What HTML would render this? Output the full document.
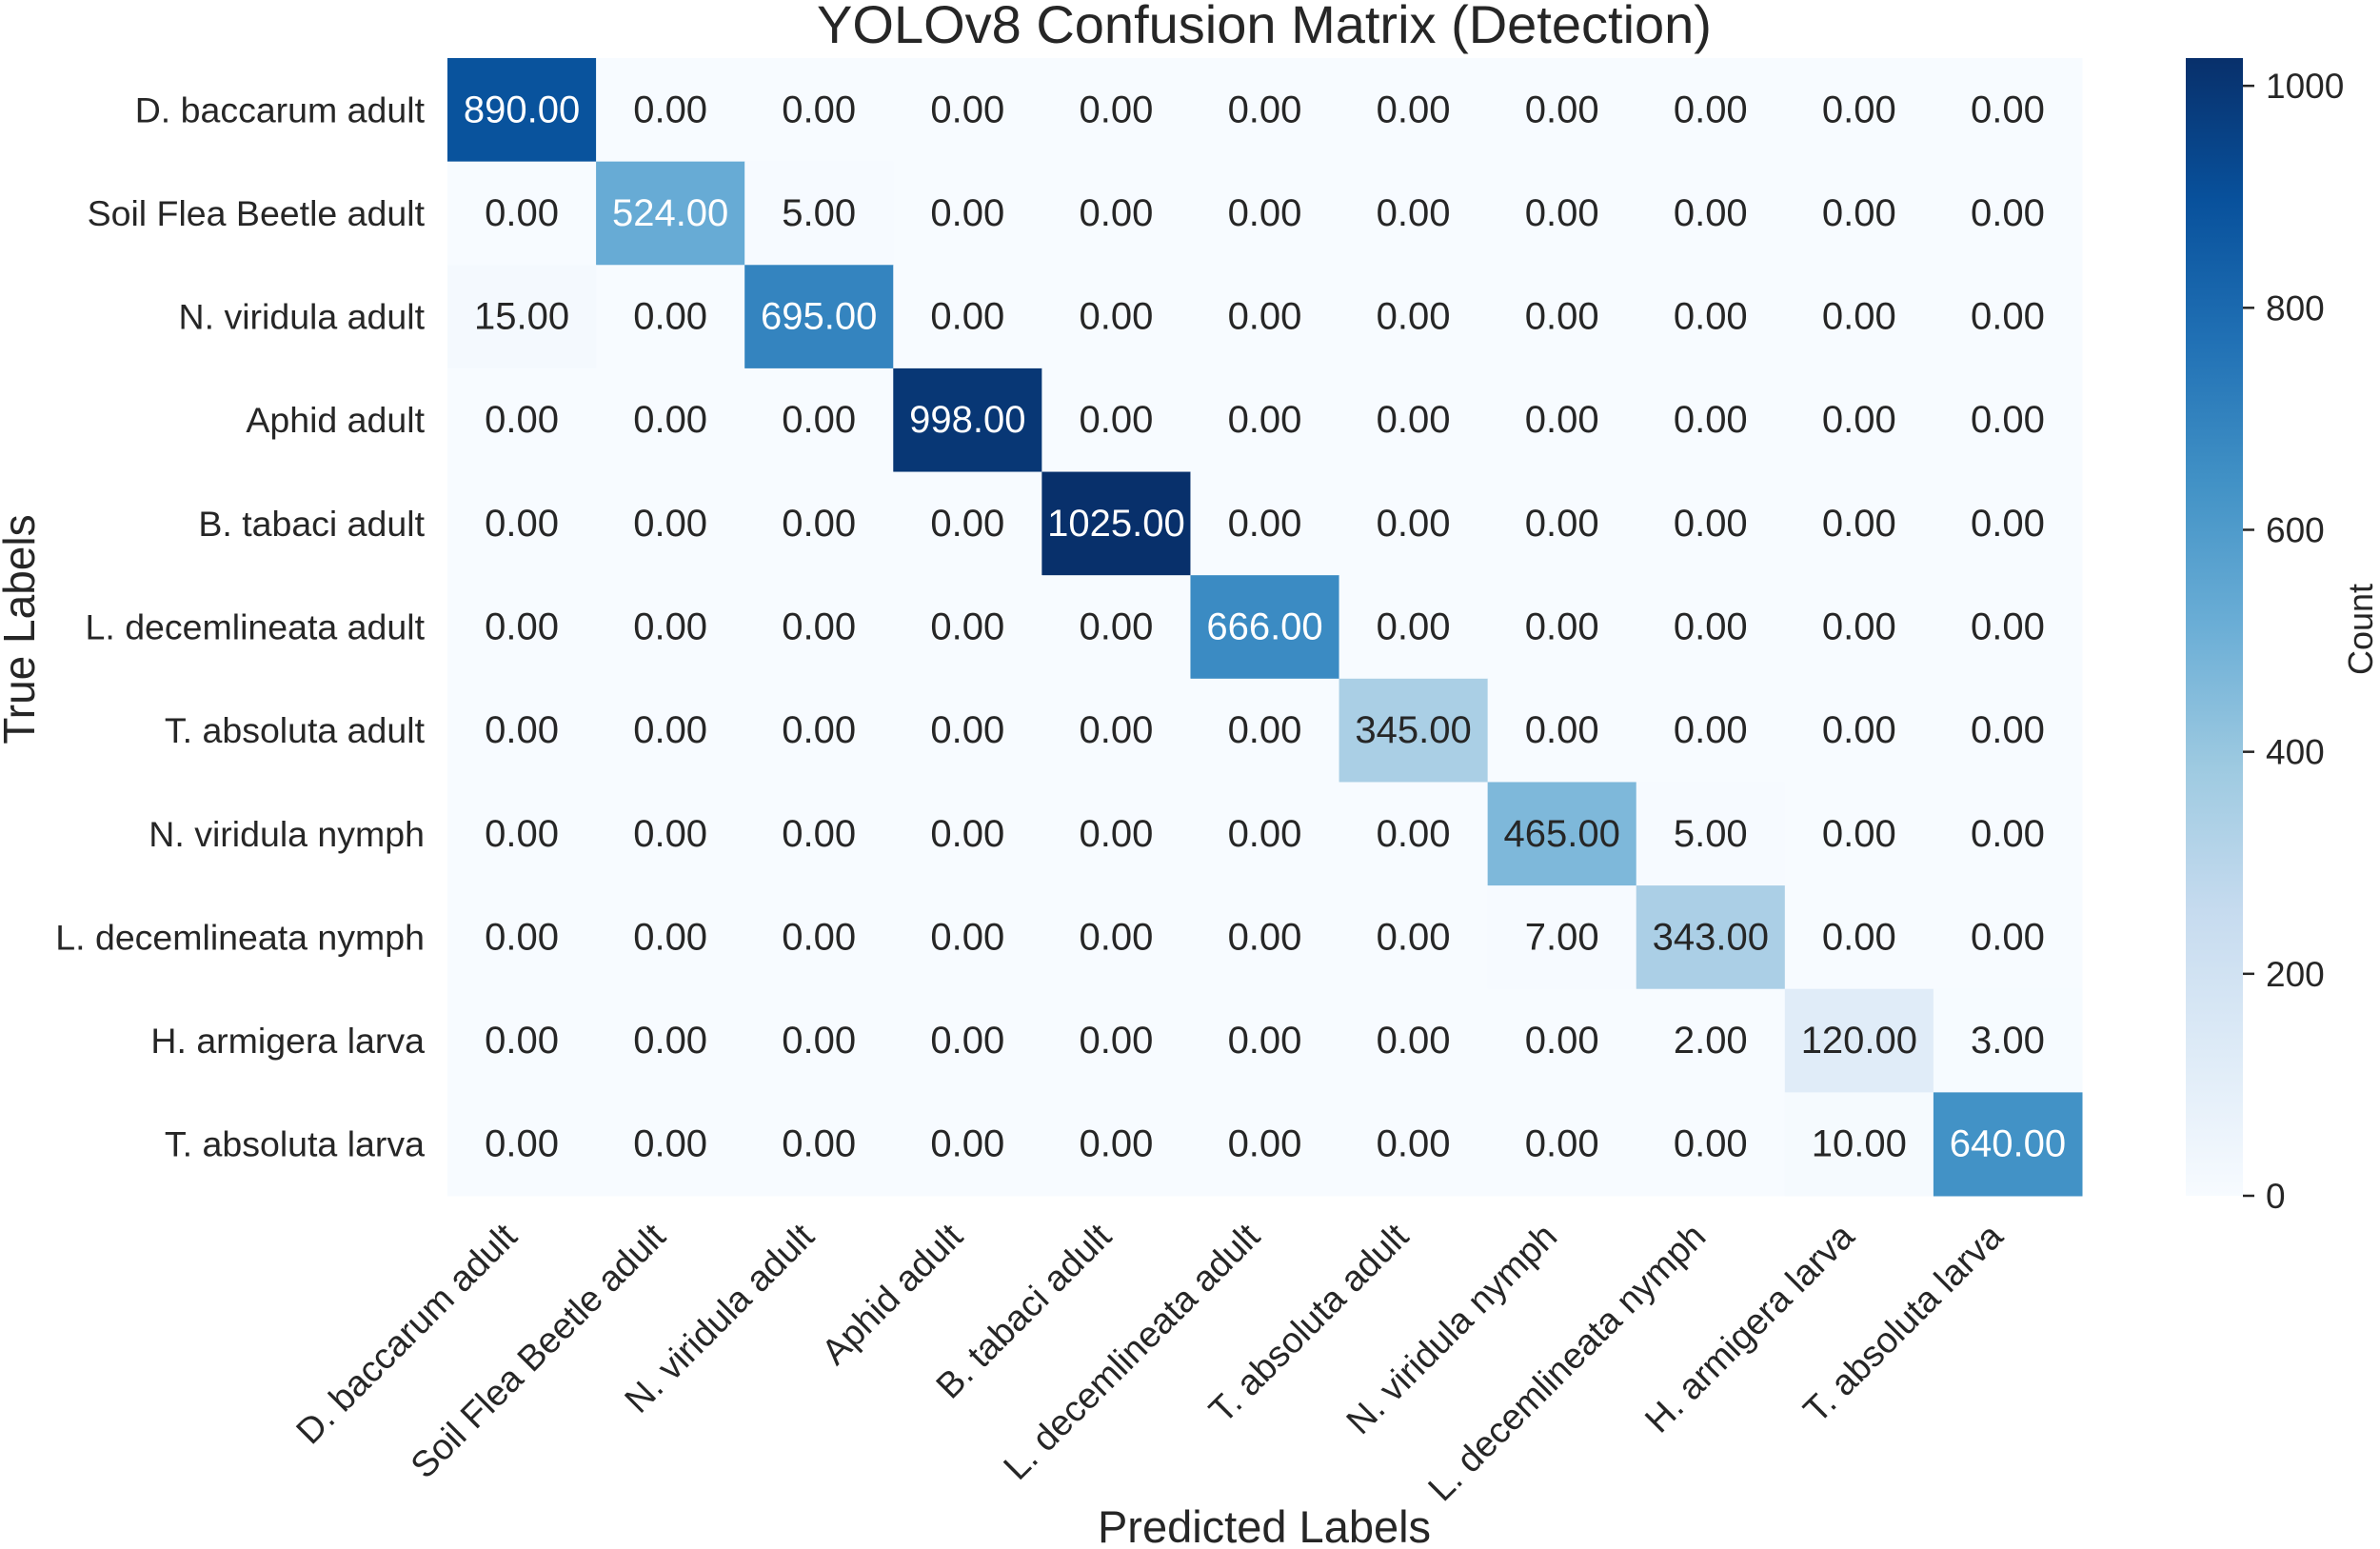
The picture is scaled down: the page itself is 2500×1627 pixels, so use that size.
<!DOCTYPE html>
<html><head><meta charset="utf-8"><style>
html,body{margin:0;padding:0;background:#fff;}
svg{display:block;font-family:"Liberation Sans",sans-serif;}
</style></head><body>
<svg id="chart" width="2500" height="1627" viewBox="0 0 2500 1627" xmlns="http://www.w3.org/2000/svg">
<defs>
<linearGradient id="cbgrad" x1="0" y1="1" x2="0" y2="0">
<stop offset="0" stop-color="#f7fbff"/><stop offset="0.125" stop-color="#deebf7"/><stop offset="0.25" stop-color="#c6dbef"/><stop offset="0.375" stop-color="#9ecae1"/><stop offset="0.5" stop-color="#6baed6"/><stop offset="0.625" stop-color="#4292c6"/><stop offset="0.75" stop-color="#2171b5"/><stop offset="0.875" stop-color="#08519c"/><stop offset="1" stop-color="#08306b"/>
</linearGradient>
</defs>
<text x="1328" y="45" font-size="56" text-anchor="middle" fill="#262626">YOLOv8 Confusion Matrix (Detection)</text>
<g id="cells"></g>
<g id="xlabels"></g>
<g id="ylabels"></g>
<text x="1328" y="1620" font-size="47" text-anchor="middle" fill="#262626">Predicted Labels</text>
<text transform="translate(36,661) rotate(-90)" font-size="46" text-anchor="middle" fill="#262626">True Labels</text>
<rect x="2296" y="61" width="60" height="1195" fill="url(#cbgrad)"/>
<g id="cbticks"></g>
<text transform="translate(2492,661) rotate(-90)" font-size="36" text-anchor="middle" fill="#262626">Count</text>
</svg>
<script>
const categories = ["D. baccarum adult","Soil Flea Beetle adult","N. viridula adult","Aphid adult","B. tabaci adult","L. decemlineata adult","T. absoluta adult","N. viridula nymph","L. decemlineata nymph","H. armigera larva","T. absoluta larva"];
const matrix = [
[890,0,0,0,0,0,0,0,0,0,0],
[0,524,5,0,0,0,0,0,0,0,0],
[15,0,695,0,0,0,0,0,0,0,0],
[0,0,0,998,0,0,0,0,0,0,0],
[0,0,0,0,1025,0,0,0,0,0,0],
[0,0,0,0,0,666,0,0,0,0,0],
[0,0,0,0,0,0,345,0,0,0,0],
[0,0,0,0,0,0,0,465,5,0,0],
[0,0,0,0,0,0,0,7,343,0,0],
[0,0,0,0,0,0,0,0,2,120,3],
[0,0,0,0,0,0,0,0,0,10,640]];
const cbTicks = [0,200,400,600,800,1000];
const vmax = 1025;

const NS="http://www.w3.org/2000/svg";
const X0=470, X1=2187, Y0=61, Y1=1256;
const n=categories.length, cw=(X1-X0)/n, ch=(Y1-Y0)/n;
const xPos=i=>X0+i*cw, yPos=i=>Y0+i*ch;
const stops=["#f7fbff","#deebf7","#c6dbef","#9ecae1","#6baed6","#4292c6","#2171b5","#08519c","#08306b"].map(h=>[1,3,5].map(k=>parseInt(h.substr(k,2),16)));
function blues(t){t=Math.max(0,Math.min(1,t));const p=t*8,i=Math.min(7,Math.floor(p)),f=p-i;return stops[i].map((c,k)=>c+(stops[i+1][k]-c)*f);}
function lum(c){const l=c.map(v=>{v/=255;return v<=0.03928?v/12.92:Math.pow((v+0.055)/1.055,2.4)});return 0.2126*l[0]+0.7152*l[1]+0.0722*l[2];}
function mk(tag,attrs,parent){const e=document.createElementNS(NS,tag);for(const k in attrs)e.setAttribute(k,attrs[k]);parent.appendChild(e);return e;}
const gc=document.getElementById('cells');
matrix.forEach((row,r)=>row.forEach((v,c)=>{
 const col=blues(v/vmax);
 const rect=mk('rect',{x:xPos(c),y:yPos(r),width:cw+0.5,height:ch+0.5,fill:`rgb(${col.map(Math.round).join(',')})`},gc);
 
 
 const t=mk('text',{x:xPos(c)+cw/2,y:yPos(r)+ch/2+13,'font-size':40,'text-anchor':'middle',fill:lum(col)<0.408?'#ffffff':'#262626'},gc);
 t.textContent=v.toFixed(2);
 
 
}));
const gx=document.getElementById('xlabels'), gy=document.getElementById('ylabels');
categories.forEach((name,i)=>{
 const cx=xPos(i)+cw/2-3, cy=Y1+45;
 const t=mk('text',{transform:`translate(${cx},${cy}) rotate(-45)`,'font-size':38,'text-anchor':'end',fill:'#262626'},gx);
 t.textContent=name;
 
 
 const ty=mk('text',{x:X0-24,y:yPos(i)+ch/2+13,'font-size':37.5,'text-anchor':'end',fill:'#262626'},gy);
 ty.textContent=name;
 
 
});
const gcb=document.getElementById('cbticks');
cbTicks.forEach(v=>{
 const y=Y1-(v/vmax)*(Y1-Y0);
 const l=mk('line',{x1:2356,x2:2368,y1:y,y2:y,stroke:'#262626','stroke-width':2.5},gcb);
 
 
 const t=mk('text',{x:2380,y:y+13,'font-size':37,fill:'#262626'},gcb);
 t.textContent=v;
 
 
});
</script>
</body></html>
